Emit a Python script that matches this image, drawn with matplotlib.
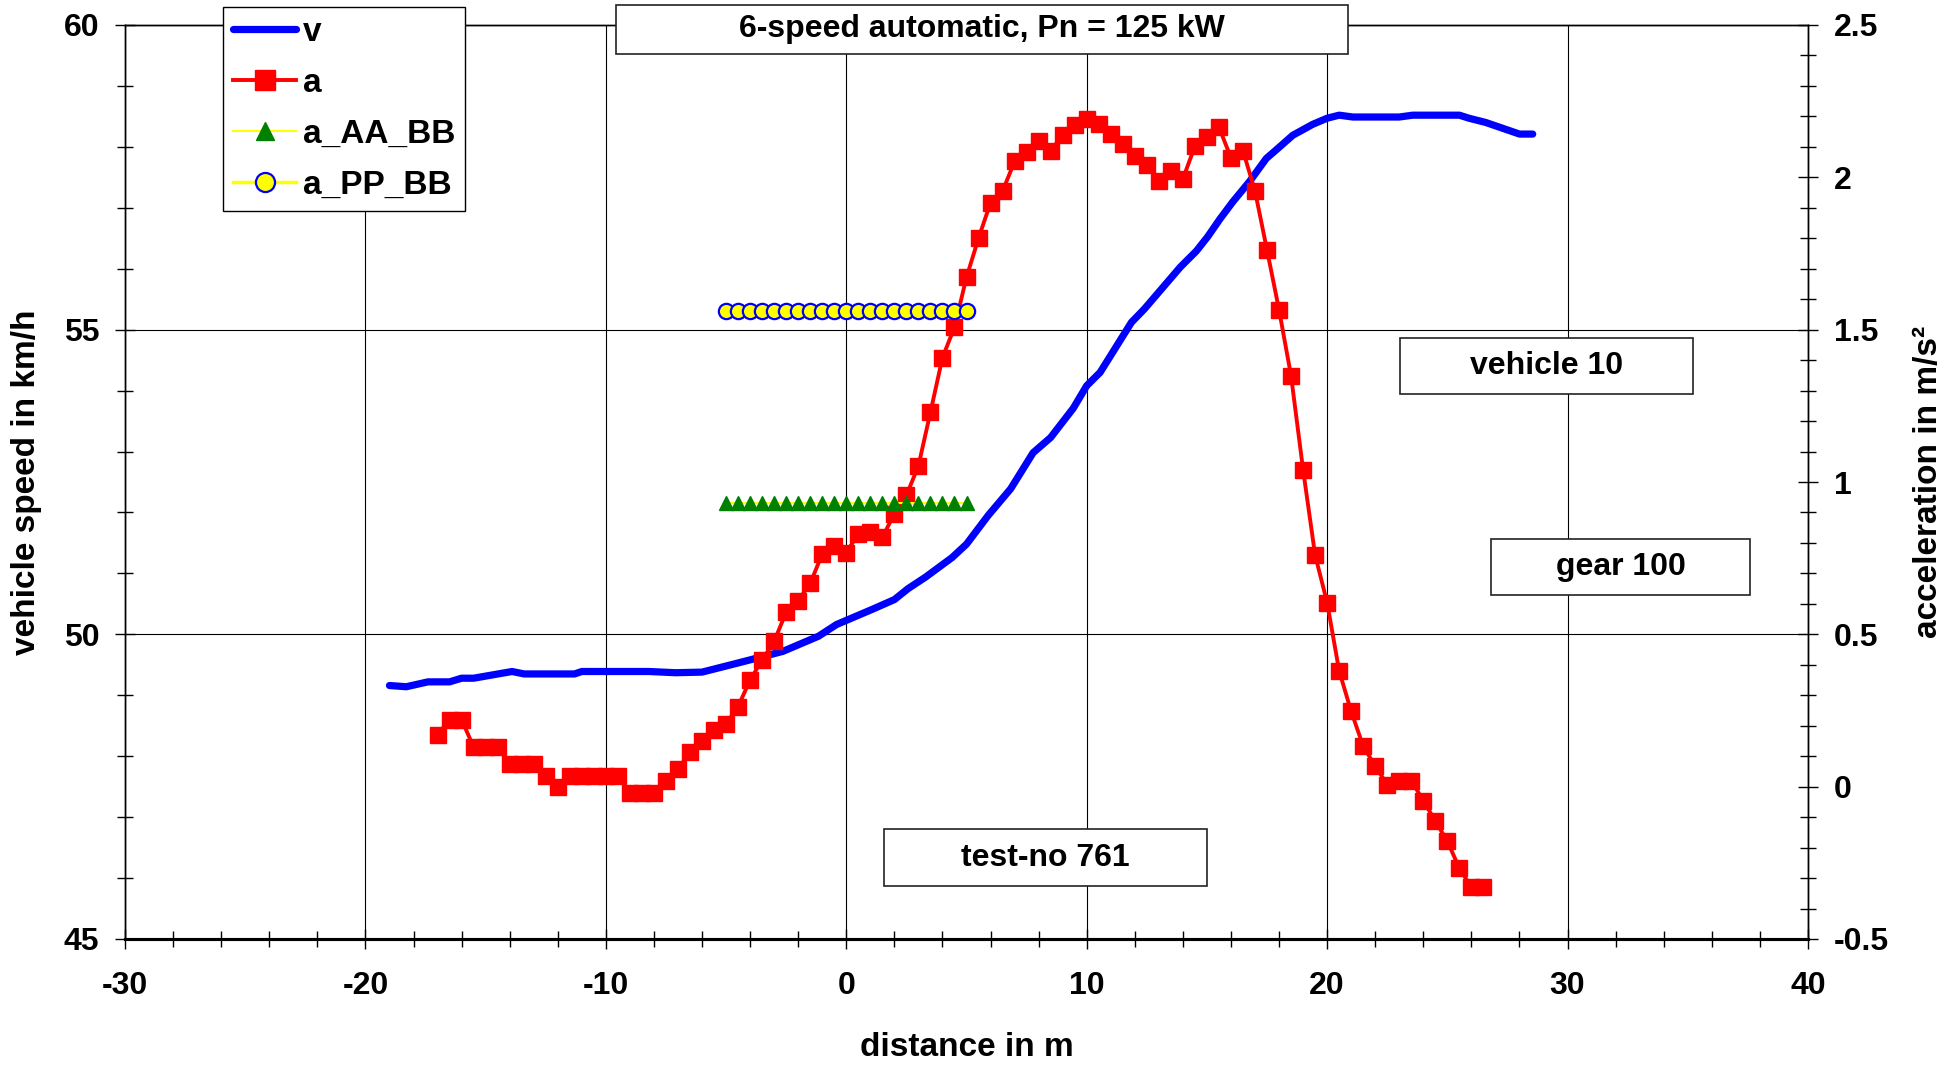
import numpy as np
import matplotlib.pyplot as plt
from matplotlib.ticker import MultipleLocator
from matplotlib.patches import Rectangle

plt.rcParams['font.family'] = ['Liberation Sans', 'DejaVu Sans']
plt.rcParams['font.weight'] = 'bold'
plt.rcParams['axes.labelweight'] = 'bold'
plt.rcParams['font.size'] = 23
plt.rcParams['axes.unicode_minus'] = False

# vehicle speed v (km/h) over distance (m)
dist_v = [-19.0, -18.3, -17.4, -16.5, -16.0, -15.5, -13.9, -13.4, -11.3, -11.0,
          -8.2, -7.1, -6.0, -4.5, -2.64, -1.15, -0.41, 1.08, 2.0, 2.57,
          3.3, 4.4, 5.0, 5.9, 6.84, 7.77, 8.5, 9.44, 10.0, 10.56,
          11.86, 12.4, 13.9, 14.56, 15.04, 15.53, 16.08, 16.77, 17.47, 17.88,
          18.57, 19.4, 20.0, 20.5, 21.07, 23.0, 23.56, 25.5, 25.9, 26.6,
          28.0, 28.55]
speed = [49.16, 49.14, 49.22, 49.22, 49.28, 49.28, 49.39, 49.35, 49.35, 49.39,
         49.39, 49.37, 49.38, 49.53, 49.72, 49.97, 50.16, 50.41, 50.57, 50.75,
         50.94, 51.26, 51.48, 51.95, 52.39, 52.98, 53.23, 53.71, 54.08, 54.30,
         55.12, 55.34, 56.03, 56.29, 56.53, 56.81, 57.10, 57.43, 57.81, 57.95,
         58.19, 58.37, 58.47, 58.52, 58.49, 58.49, 58.52, 58.52, 58.47, 58.40,
         58.21, 58.21]

# acceleration a (m/s²), every 0.5 m from -17 to 26.5
dist_a = np.arange(-17.0, 26.75, 0.5)
accel = [0.17, 0.22, 0.22, 0.13, 0.13, 0.13, 0.075, 0.075, 0.075, 0.035,
         0.0, 0.035, 0.035, 0.035, 0.035, 0.035, -0.02, -0.02, -0.02, 0.02,
         0.058, 0.113, 0.15, 0.187, 0.206, 0.263, 0.35, 0.416, 0.477, 0.573,
         0.611, 0.667, 0.764, 0.789, 0.768, 0.830, 0.837, 0.818, 0.896, 0.956,
         1.053, 1.229, 1.408, 1.508, 1.672, 1.800, 1.917, 1.955, 2.052, 2.083,
         2.118, 2.087, 2.139, 2.171, 2.190, 2.175, 2.142, 2.108, 2.070, 2.039,
         1.989, 2.020, 1.995, 2.102, 2.133, 2.165, 2.064, 2.087, 1.955, 1.761,
         1.565, 1.348, 1.040, 0.760, 0.604, 0.380, 0.247, 0.133, 0.067, 0.007,
         0.020, 0.020, -0.046, -0.113, -0.179, -0.268, -0.330, -0.330]

# reference levels
dist_bb = np.arange(-5.0, 5.25, 0.5)
a_aa_bb = [0.93] * len(dist_bb)
a_pp_bb = [1.56] * len(dist_bb)

W, H = 1957, 1066
fig = plt.figure(figsize=(W / 100, H / 100), dpi=100)
ax = fig.add_axes([125 / W, 1 - 939 / H, (1808 - 125) / W, (939 - 25) / H])
ax2 = ax.twinx()

l_v, = ax.plot(dist_v, speed, color='#0000FF', lw=5.2, solid_capstyle='round',
               solid_joinstyle='round', label='v')
l_a, = ax2.plot(dist_a, accel, color='#FF0000', lw=2.8, marker='s', ms=11.5,
                mec='#FF0000', label='a')
l_aa, = ax2.plot(dist_bb, a_aa_bb, color='#FFFF00', lw=1.5, marker='^', ms=10,
                 mfc='#008000', mec='#008000', label='a_AA_BB')
l_pp, = ax2.plot(dist_bb, a_pp_bb, color='#FFFF00', lw=2.5, marker='o', ms=11,
                 mfc='#FFFF00', mec='#0000FF', mew=1.6, label='a_PP_BB')

ax.set_xlim(-30, 40)
ax.set_ylim(45, 60)
ax2.set_ylim(-0.5, 2.5)

ax.xaxis.set_major_locator(MultipleLocator(10))
ax.xaxis.set_minor_locator(MultipleLocator(2))
ax.yaxis.set_major_locator(MultipleLocator(5))
ax.yaxis.set_minor_locator(MultipleLocator(1))
ax2.yaxis.set_minor_locator(MultipleLocator(0.1))
ax2.set_yticks([-0.5, 0, 0.5, 1, 1.5, 2, 2.5])
ax2.set_yticklabels(['-0.5', '0', '0.5', '1', '1.5', '2', '2.5'])

ax.tick_params(axis='x', which='major', direction='inout', length=14, width=1, pad=16)
ax.tick_params(axis='x', which='minor', direction='inout', length=11, width=1)
ax.tick_params(axis='y', which='major', direction='inout', length=15, width=1, pad=11)
ax.tick_params(axis='y', which='minor', direction='inout', length=12, width=1)
ax2.tick_params(axis='y', which='major', direction='inout', length=15, width=1, pad=11)
ax2.tick_params(axis='y', which='minor', direction='inout', length=12, width=1)

ax.grid(True, which='major', color='black', lw=0.8)
for sp in ['left', 'top', 'right']:
    ax.spines[sp].set_linewidth(1)
    ax2.spines[sp].set_linewidth(1)
ax.spines['bottom'].set_linewidth(2.2)
ax2.spines['bottom'].set_linewidth(2.2)

ax.set_xlabel('distance in m', fontsize=24, fontweight='bold', va='center')
ax.xaxis.set_label_coords(0.5, (939 - 1048) / 914)
ax.set_ylabel('vehicle speed in km/h', fontsize=24, fontweight='bold', va='center')
ax.yaxis.set_label_coords((27 - 125) / 1683, 0.5)
ax2.set_ylabel('acceleration in m/s²', fontsize=24, fontweight='bold', va='center',
               rotation=90)
ax2.yaxis.set_label_coords((1928 - 125) / 1683, 0.5)

fig.legend([l_v, l_a, l_aa, l_pp], ['v', 'a', 'a_AA_BB', 'a_PP_BB'],
           loc='upper left', bbox_to_anchor=(223 / W, 1 - 7 / H), borderaxespad=0,
           fancybox=False, edgecolor='black', framealpha=1, handlelength=1.9,
           handletextpad=0.2, labelspacing=0.6, borderpad=0.3, markerscale=1.25,
           prop={'weight': 'bold', 'size': 24})

# text boxes (pixel extents in figure)
boxes = [
    ('6-speed automatic, Pn = 125 kW', 616, 1348, 5, 54),
    ('vehicle 10', 1400, 1693, 338, 394),
    ('gear 100', 1491, 1750, 539, 595),
    ('test-no 761', 884, 1207, 829, 886),
]
for txt, x0, x1, y0, y1 in boxes:
    fig.patches.append(Rectangle((x0 / W, 1 - y1 / H), (x1 - x0) / W, (y1 - y0) / H,
                                 transform=fig.transFigure, facecolor='white',
                                 edgecolor='#222222', lw=1.2, zorder=6))
    fig.text((x0 + x1) / 2 / W, 1 - (y0 + y1) / 2 / H, txt, ha='center', va='center',
             fontsize=23, fontweight='bold', zorder=7)

fig.savefig('out.png', dpi=100)
